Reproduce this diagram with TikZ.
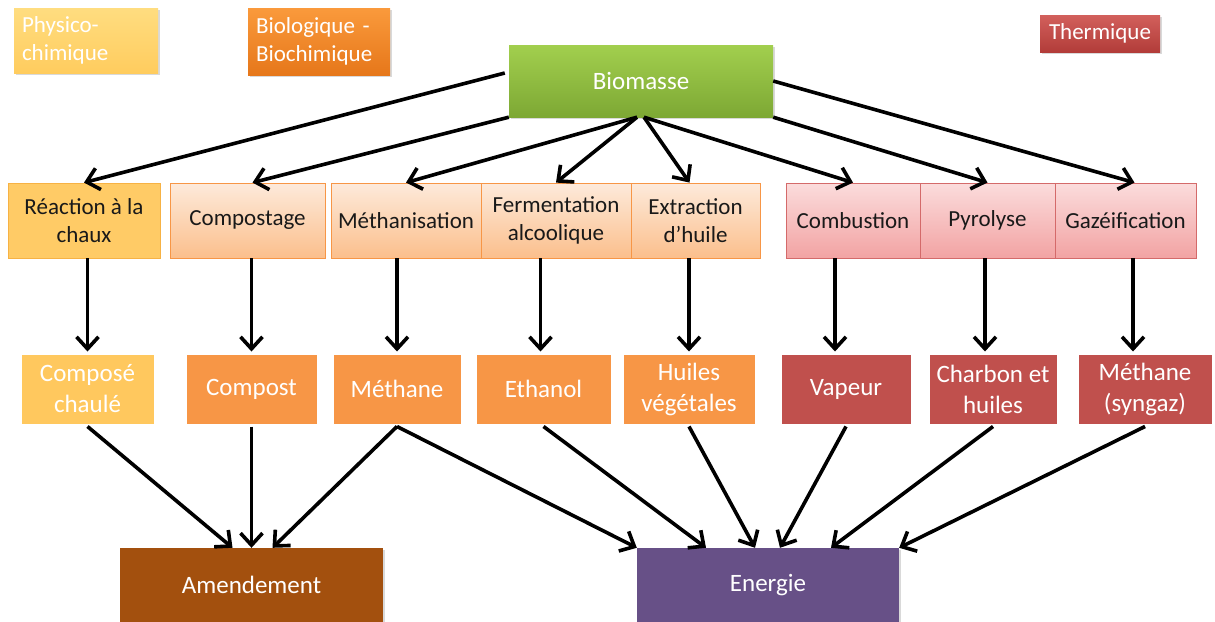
\documentclass[tikz,border=0pt]{standalone}
\usepackage{fontspec}
\setmainfont{Carlito}
\usepackage{tikz}
\usetikzlibrary{arrows.meta, shadows}

\definecolor{physHaut}{HTML}{FFDD80}
\definecolor{physBas}{HTML}{FFCC5E}
\definecolor{bioHaut}{HTML}{FA9A3C}
\definecolor{bioBas}{HTML}{E6771A}
\definecolor{thermHaut}{HTML}{D2605C}
\definecolor{thermBas}{HTML}{B23C39}
\definecolor{vertHaut}{HTML}{A2CF4E}
\definecolor{vertBas}{HTML}{7DA834}
\definecolor{chauxFond}{HTML}{FFCB66}
\definecolor{chauxBord}{HTML}{F7B244}
\definecolor{pecheHaut}{HTML}{FDEADB}
\definecolor{pecheBas}{HTML}{FBBF8C}
\definecolor{pecheBord}{HTML}{F79646}
\definecolor{roseHaut}{HTML}{FBDCDC}
\definecolor{roseBas}{HTML}{F2A3A3}
\definecolor{roseBord}{HTML}{D46A6A}
\definecolor{produitJaune}{HTML}{FFC85E}
\definecolor{produitOrange}{HTML}{F79646}
\definecolor{produitRouge}{HTML}{C0504D}
\definecolor{amendFond}{HTML}{A3500E}
\definecolor{energFond}{HTML}{675087}

\begin{document}
\begin{tikzpicture}[x=1pt, y=-1pt,
  >={Straight Barb[length=12pt, width=22pt]},
  flow/.style={->, line width=3.6pt, black},
  ombre/.style={drop shadow={opacity=0.3, shadow xshift=1.5pt, shadow yshift=-2pt}},
  legende/.style={ombre, text=white, font=\fontsize{23}{28}\selectfont, inner xsep=8pt},
  procede/.style={minimum height=75pt, align=center, inner sep=2pt, text=black!90,
    font=\fontsize{23}{28}\selectfont, line width=0.8pt},
  produit/.style={ombre, minimum height=72pt, align=center, inner sep=2pt, text=white,
    draw=white, line width=3pt, font=\fontsize{25}{31}\selectfont},
  bilan/.style={ombre, minimum width=263pt, minimum height=74pt, text=white,
    font=\fontsize{25}{30}\selectfont}]

\useasboundingbox (0,0) rectangle (1215,621);

\draw(86,40.5) node[legende, top color=physHaut, bottom color=physBas, text width=128pt,
  minimum height=65pt, align=left] (phys) {Physico-\\chimique};
\draw(319,41.5) node[legende, top color=bioHaut, bottom color=bioBas, text width=126pt,
  minimum height=67pt, align=left] (biol) {Biologique -\\Biochimique};
\draw(1100,33.5) node[legende, top color=thermHaut, bottom color=thermBas,
  minimum width=120pt, minimum height=37pt, inner sep=0pt] (therm) {Thermique};

\draw(641,81) node[ombre, top color=vertHaut, bottom color=vertBas, minimum width=264pt,
  minimum height=72pt, text=white, font=\fontsize{25}{30}\selectfont] (bio) {Biomasse};

\draw(84,220.5) node[procede, fill=chauxFond, draw=chauxBord, minimum width=152pt] (reac) {Réaction à la\\chaux};
\draw(247.5,220.5) node[procede, top color=pecheHaut, bottom color=pecheBas, draw=pecheBord, minimum width=155pt] (comp) {Compostage};
\draw(406,220.5) node[procede, top color=pecheHaut, bottom color=pecheBas, draw=pecheBord, minimum width=150pt] (meth) {Méthanisation};
\draw(556,220.5) node[procede, top color=pecheHaut, bottom color=pecheBas, draw=pecheBord, minimum width=150pt] (ferm) {Fermentation\\alcoolique};
\draw(695.5,220.5) node[procede, top color=pecheHaut, bottom color=pecheBas, draw=pecheBord, minimum width=129pt] (extr) {Extraction\\d’huile};
\draw(853,220.5) node[procede, top color=roseHaut, bottom color=roseBas, draw=roseBord, minimum width=134pt] (comb) {Combustion};
\draw(987.5,220.5) node[procede, top color=roseHaut, bottom color=roseBas, draw=roseBord, minimum width=135pt] (pyro) {Pyrolyse};
\draw(1125.5,220.5) node[procede, top color=roseHaut, bottom color=roseBas, draw=roseBord, minimum width=141pt] (gaze) {Gazéification};

\draw(87.5,389) node[produit, fill=produitJaune, minimum width=135pt] (chau) {Composé\\chaulé};
\draw(251.5,389) node[produit, fill=produitOrange, minimum width=133pt] (cpst) {Compost};
\draw(397,389) node[produit, fill=produitOrange, minimum width=130pt] (mthn) {Méthane};
\draw(543.5,389) node[produit, fill=produitOrange, minimum width=137pt] (etha) {Ethanol};
\draw(689,389) node[produit, fill=produitOrange, minimum width=134pt] (huil) {Huiles\\végétales};
\draw(846,389) node[produit, fill=produitRouge, minimum width=132pt] (vape) {Vapeur};
\draw(993,389) node[produit, fill=produitRouge, minimum width=130pt] (charb) {Charbon et\\huiles};
\draw(1145,389) node[produit, fill=produitRouge, minimum width=136pt] (syng) {Méthane\\(syngaz)};

\draw(251.5,585) node[bilan, fill=amendFond] (amend) {Amendement};
\draw(768,585) node[bilan, fill=energFond, minimum width=262pt] (ener) {Energie};

\draw[flow] ([xshift=-4pt, yshift=8pt]bio.west) -- (reac.north);
\draw[flow] (bio.south west) -- ([xshift=5pt]comp.north);
\draw[flow] ([xshift=-4pt]bio.south) -- (meth.north);
\draw[flow] ([xshift=-4pt]bio.south) -- (ferm.north);
\draw[flow] ([xshift=3pt]bio.south) -- ([xshift=-6pt]extr.north);
\draw[flow] ([xshift=3pt]bio.south) -- (comb.north);
\draw[flow] (bio.south east) -- (pyro.north);
\draw[flow] (bio.east) -- ([xshift=9pt]gaze.north);

\draw[flow] (chau.north |- reac.south) -- (chau.north);
\draw[flow] (cpst.north |- comp.south) -- (cpst.north);
\draw[flow] (mthn.north |- meth.south) -- (mthn.north);
\draw[flow] ([xshift=-3pt]etha.north |- ferm.south) -- ([xshift=-3pt]etha.north);
\draw[flow] (huil.north |- extr.south) -- (huil.north);
\draw[flow] ([xshift=-11pt]vape.north |- comb.south) -- ([xshift=-11pt]vape.north);
\draw[flow] ([xshift=-8pt]charb.north |- pyro.south) -- ([xshift=-8pt]charb.north);
\draw[flow] ([xshift=-12pt]syng.north |- gaze.south) -- ([xshift=-12pt]syng.north);

\draw[flow] (chau.south) -- ([xshift=-19pt]amend.north);
\draw[flow] (cpst.south) -- (amend.north);
\draw[flow] (mthn.south) -- ([xshift=21pt]amend.north);
\draw[flow] (mthn.south) -- (ener.north west);
\draw[flow] (etha.south) -- ([xshift=-62pt]ener.north);
\draw[flow] (huil.south) -- ([xshift=-13pt]ener.north);
\draw[flow] (vape.south) -- ([xshift=12pt]ener.north);
\draw[flow] (charb.south) -- ([xshift=63pt]ener.north);
\draw[flow] (syng.south) -- (ener.north east);

\end{tikzpicture}
\end{document}
